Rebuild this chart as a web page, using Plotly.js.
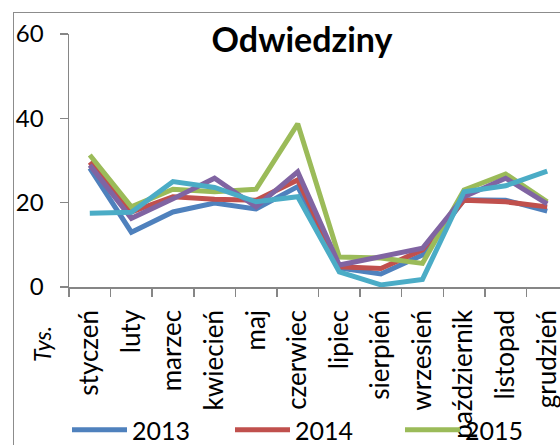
<!DOCTYPE html>
<html><head><meta charset="utf-8">
<script src="https://cdn.plot.ly/plotly-3.0.1.min.js"></script>
<style>
html,body{margin:0;padding:0;background:#fff;width:560px;height:445px;overflow:hidden;position:relative;}
#chart{position:absolute;left:0;top:0;width:900px;height:445px;}
#frame{position:absolute;left:13px;top:12px;width:900px;height:600px;border:1px solid #8c8c8c;box-sizing:border-box;pointer-events:none;}
</style></head>
<body>
<div id="chart"></div>
<div id="frame"></div>
<script>
const months = ["styczeń","luty","marzec","kwiecień","maj","czerwiec","lipiec","sierpień","wrzesień","październik","listopad","grudzień"];
const years = ["2013","2014","2015","2016","2017"];
const v2013 = [28.2, 13.0, 17.8, 19.9, 18.5, 23.8, 4.5, 3.1, 7.6, 20.7, 20.6, 18.0];
const v2014 = [29.6, 17.8, 21.4, 20.8, 20.6, 25.4, 4.8, 4.4, 8.8, 20.6, 20.2, 19.0];
const v2015 = [31.3, 19.0, 23.2, 22.6, 23.2, 38.7, 7.1, 6.9, 5.6, 23.0, 26.8, 20.2];
const v2016 = [28.9, 16.3, 20.9, 25.8, 19.0, 27.3, 5.2, 7.1, 9.2, 21.4, 25.8, 19.7];
const v2017 = [17.5, 17.7, 25.0, 23.6, 20.2, 21.4, 3.6, 0.5, 1.8, 22.6, 24.0, 27.5];
const series = [v2013, v2014, v2015, v2016, v2017];
const colors = ["#4F81BD","#C0504D","#9BBB59","#8064A2","#4BACC6"];
// the reference is cropped: only the first three legend entries are visible
const legendIds = ["legend","legend2","legend3",null,null];
const FONT = "Lato, 'Open Sans', sans-serif";

const traces = series.map((v,i)=>{
  const t = {type:"scatter", mode:"lines", x:months, y:v, name:years[i],
    line:{color:colors[i], width:5}, hoverinfo:"skip", showlegend: legendIds[i] !== null};
  if (legendIds[i]) t.legend = legendIds[i];
  return t;
});

function legendAt(px){
  return {orientation:"h", xref:"container", yref:"container", x:px/900, xanchor:"left",
    y:1-430/445, yanchor:"middle", font:{family:FONT, size:25, color:"#000"},
    bgcolor:"rgba(0,0,0,0)", itemwidth:55, borderwidth:0};
}

const layout = {
  width:900, height:445,
  margin:{l:69, r:332, t:34, b:158, autoexpand:false},
  paper_bgcolor:"rgba(0,0,0,0)", plot_bgcolor:"rgba(0,0,0,0)",
  font:{family:FONT, color:"#000"},
  showlegend:true,
  title:{text:"<b>Odwiedziny</b>", font:{family:FONT, size:34, color:"#000"},
    x:(302-69)/499, xref:"paper", xanchor:"center", y:1-40/445, yref:"container", yanchor:"middle"},
  xaxis:{type:"category", automargin:false, showgrid:false, zeroline:false, showline:true, linecolor:"#868686", linewidth:1.5,
    ticks:"outside", ticklen:8, tickcolor:"#868686", tickwidth:1.5, tickson:"boundaries",
    tickangle:-90, tickfont:{family:FONT, size:26, color:"#000"}, ticklabelstandoff:11,
    range:[-0.5, 11.5], fixedrange:true},
  yaxis:{range:[0,60], dtick:20, tick0:0, automargin:false, showgrid:false, zeroline:false, showline:true, linecolor:"#868686", linewidth:1.5,
    ticks:"outside", ticklen:8, tickcolor:"#868686", tickwidth:1.5,
    tickfont:{family:FONT, size:24, color:"#000"}, ticklabelstandoff:11, fixedrange:true},
  legend: legendAt(67),
  legend2: legendAt(230),
  legend3: legendAt(400),
  annotations:[{text:"<i>Tys.</i>", xref:"paper", yref:"paper", x:(42-69)/499, y:(287-344)/253,
    xanchor:"center", yanchor:"middle", textangle:-90, showarrow:false,
    font:{family:FONT, size:23, color:"#000"}}]
};
Plotly.newPlot("chart", traces, layout, {displayModeBar:false, staticPlot:true});
</script>
</body></html>
